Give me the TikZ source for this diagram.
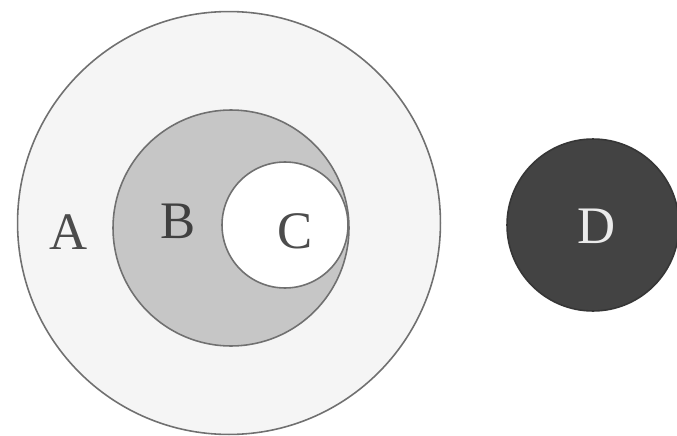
\documentclass[tikz,border=0pt]{standalone}
\usepackage{tikz}
\usetikzlibrary{positioning}
\usepackage{fontspec}
\setmainfont{Liberation Serif}
\definecolor{ringLine}{HTML}{707070}
\definecolor{setAFill}{HTML}{F5F5F5}
\definecolor{setBFill}{HTML}{C6C6C6}
\definecolor{setDFill}{HTML}{434343}
\tikzset{
  setcirc/.style={circle, draw=ringLine, line width=0.9pt, fill=#1, inner sep=0pt},
  setlbl/.style={font=\fontsize{30}{31}\selectfont, text=#1, inner sep=0pt}
}
\begin{document}
\begin{tikzpicture}[x=0.02cm,y=-0.02cm]
  \useasboundingbox[fill=white] (0,0) rectangle (677,436);
  % the nested sets
  \node[setcirc=setAFill, minimum size=8.46cm] (setA) at (229,223) {};
  \node[setcirc=setBFill, minimum size=4.72cm] (setB) at (231,228) {};
  \node[setcirc=white, minimum size=2.52cm] (setC) at (285,225) {};
  % the separate set
  \node[setcirc=setDFill, draw=setDFill!80!black, minimum size=3.44cm] (setD) at (593,225) {};
  \node[setlbl=black!70] (lblA) at (69,232) {A};
  \node[setlbl=black!75] (lblB) at (178,221) {B};
  \node[setlbl=black!70] (lblC) at (295,231) {C};
  \node[setlbl=white!92!black] (lblD) at (597,226) {D};
\end{tikzpicture}
\end{document}
